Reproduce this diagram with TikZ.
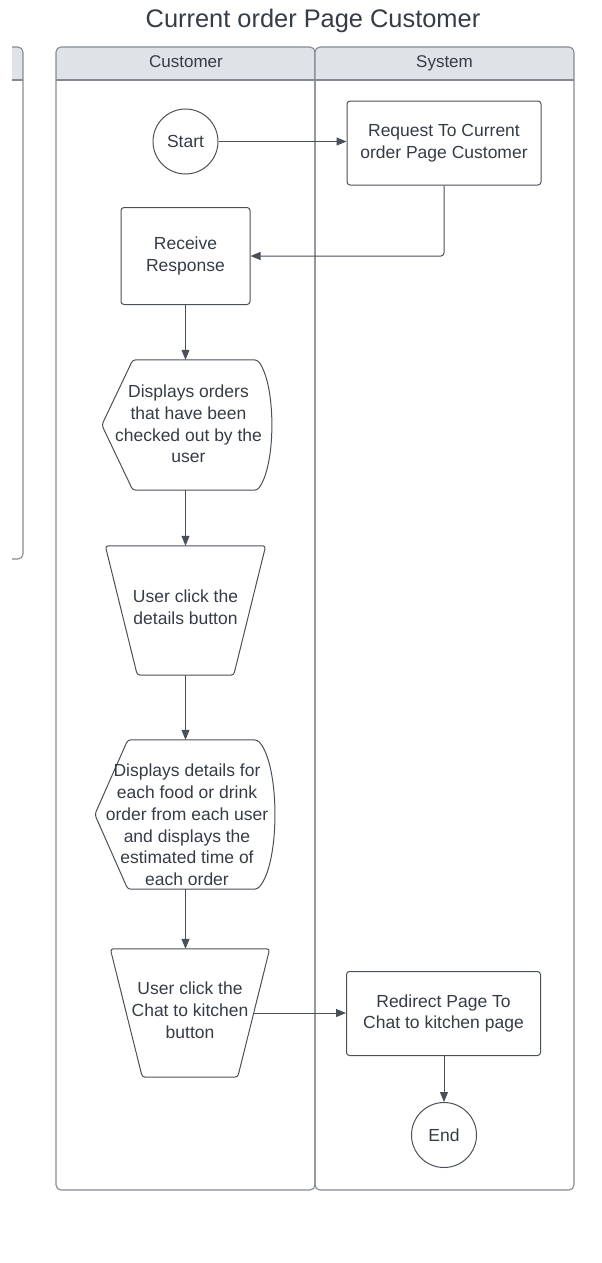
\documentclass[tikz,border=0pt]{standalone}
\usepackage{fontspec}
\setmainfont{Liberation Sans}
\usetikzlibrary{arrows.meta,calc}

\definecolor{laneline}{HTML}{858A92}
\definecolor{headfill}{HTML}{DFE3E8}
\definecolor{shapeline}{HTML}{4A5059}
\definecolor{textcol}{HTML}{353C46}

% manual-operation outline around an empty frame node (#2 = half the slant)
\newcommand\manualop[2]{%
  \draw[flow, rounded corners=3pt]
    ($(#1.north west)+(-#2,0)$) -- ($(#1.north east)+(#2,0)$)
    -- ($(#1.south east)+(-#2,0)$) -- ($(#1.south west)+(#2,0)$) -- cycle;}

% display outline: pointed left side, bulging right side
\newcommand\displayout[3]{%
  \draw[flow, rounded corners=3pt]
    ($(#1.north west)+(#2,0)$) -- ($(#1.north east)+(-#3,0)$)
    .. controls ($(#1.north east)+(4,25)$) and ($(#1.south east)+(4,-25)$)
    .. ($(#1.south east)+(-#3,0)$) -- ($(#1.south west)+(#2,0)$)
    -- (#1.west) -- cycle;}

\begin{document}
\begin{tikzpicture}[x=1pt, y=-1pt, line join=round,
  lane/.style={draw=laneline, line width=1.1pt},
  flow/.style={draw=shapeline, line width=1pt},
  txt/.style={text=textcol, align=center, inner sep=0pt,
    font=\fontsize{17.5}{21.8}\selectfont},
  headtxt/.style={text=textcol, inner sep=0pt, anchor=base, font=\fontsize{17}{20}\selectfont},
  procbox/.style={flow, txt, rounded corners=3pt, minimum width=194pt, minimum height=84pt},
  term/.style={flow, txt, circle, minimum size=65pt},
  frame/.style={inner sep=0pt, minimum width=#1},
  arr/.style={flow, -{Triangle[length=10pt,width=8pt]}}]

\useasboundingbox (0,0) rectangle (602,1263);

% title
\node[text=textcol, inner sep=0pt, anchor=base, font=\fontsize{25.4}{30}\selectfont] (title) at (313,27.5) {Current order Page Customer};

% partial lane at the left edge
\begin{scope}
  \clip (12,0) rectangle (40,600);
  \begin{scope}
    \clip[rounded corners=5pt] (-300,47) rectangle (23,559);
    \fill[headfill] (-300,47) rectangle (23,80);
  \end{scope}
  \draw[lane, rounded corners=5pt] (-300,47) rectangle (23,559);
  \draw[lane] (-300,80) -- (23,80);
\end{scope}

% swimlanes
\foreach \xa/\xb in {56/315, 315/574}{
  \begin{scope}
    \clip[rounded corners=5pt] (\xa,47) rectangle (\xb,1190);
    \fill[headfill] (\xa,47) rectangle (\xb,80);
  \end{scope}
  \draw[lane, rounded corners=5pt] (\xa,47) rectangle (\xb,1190);
}
\draw[lane] (56,80) -- (574,80);
\node[headtxt] (laneC) at (186,67) {Customer};
\node[headtxt] (laneS) at (444.5,67) {System};

% flow nodes
\node[term] (start) at (185.5,141.5) {Start};
\node[procbox] (req) at (444,143) {Request To Current\\order Page Customer};
\node[procbox, minimum width=129pt, minimum height=97pt] (rcv) at (185.5,256) {Receive\\Response};

\node[frame=170pt, minimum height=130pt] (d1) at (187,425) {};
\displayout{d1}{31}{15}
\node[txt] (d1txt) at (188.5,424) {Displays orders\\that have been\\checked out by the\\user};

\node[frame=128pt, minimum height=129pt] (t1) at (185.5,610.5) {};
\manualop{t1}{16}
\node[txt] (t1txt) at (185.5,607.5) {User click the\\details button};

\node[frame=181pt, minimum height=149pt] (d2) at (185.5,814.5) {};
\displayout{d2}{33}{19}
\node[txt] (d2txt) at (187,825) {Displays details for\\each food or drink\\order from each user\\and displays the\\estimated time of\\each order};

\node[frame=127pt, minimum height=128pt] (t2) at (190,1013) {};
\manualop{t2}{16}
\node[txt] (t2txt) at (190,1010) {User click the\\Chat to kitchen\\button};

\node[procbox] (redir) at (443.5,1013.5) {Redirect Page To\\Chat to kitchen page};
\node[term] (finish) at (444,1135) {End};

% connectors
\draw[arr] (start.east) -- (start.east -| req.west);
\draw[arr, rounded corners=3pt] (req.south) |- (rcv.east);
\draw[arr] (rcv.south) -- (d1.north -| rcv.south);
\draw[arr] (d1.south -| rcv.south) -- (t1.north -| rcv.south);
\draw[arr] (t1.south -| rcv.south) -- (d2.north -| rcv.south);
\draw[arr] (d2.south -| rcv.south) -- (t2.north -| rcv.south);
\draw[arr] (t2.east) -- (redir.west |- t2.east);
\draw[arr] (redir.south -| finish.north) -- (finish.north);
\end{tikzpicture}
\end{document}
